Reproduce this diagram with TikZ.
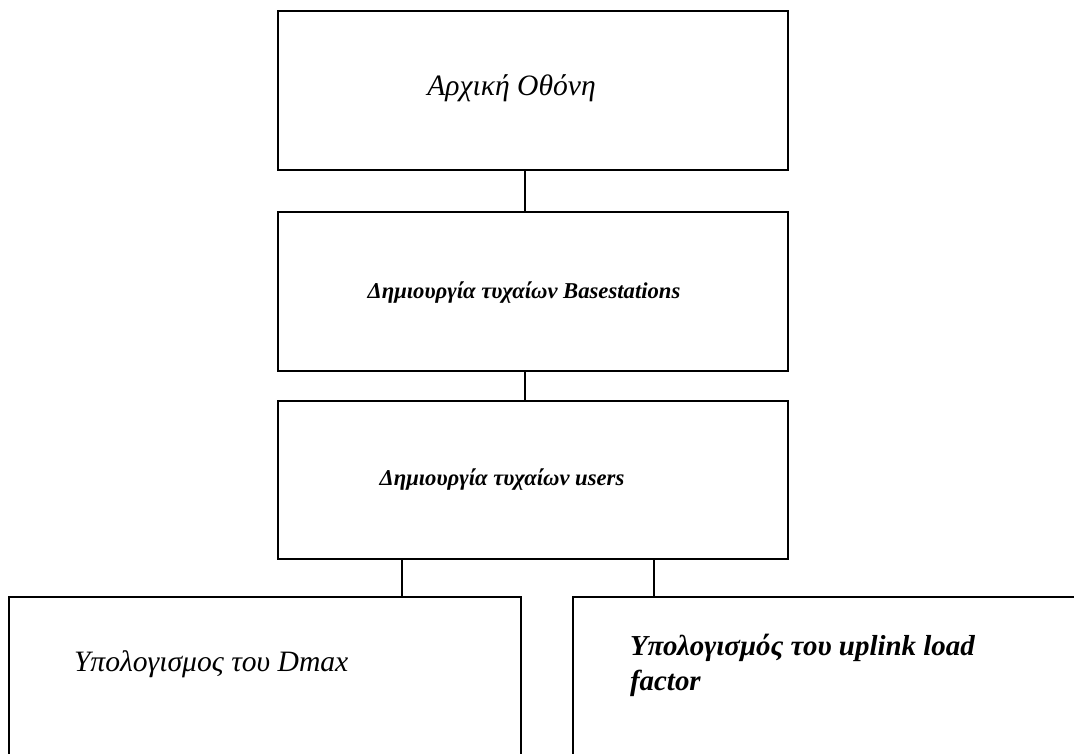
\documentclass[tikz,border=0pt]{standalone}
\usepackage{fontspec}
\setmainfont{Liberation Serif}
\begin{document}
\begin{tikzpicture}[x=0.75pt,y=-0.75pt,
  box/.style={draw=black,line width=1.2pt,rectangle,inner sep=0pt,outer sep=0pt,anchor=north west},
  wire/.style={draw=black,line width=1.2pt},
  lbl/.style={inner sep=0pt,outer sep=0pt,font=\itshape}]
\useasboundingbox (0,0) rectangle (1074,753);
\clip (0,0) rectangle (1074,753);
% process boxes
\node[box,minimum width=382.5pt,minimum height=119.25pt] (b1) at (278,11) {};
\node[box,minimum width=382.5pt,minimum height=119.25pt] (b2) at (278,212) {};
\node[box,minimum width=382.5pt,minimum height=118.5pt] (b3) at (278,401) {};
\node[box,minimum width=384pt,minimum height=180pt] (bl) at (9,597) {};
\node[box,minimum width=420pt,minimum height=180pt] (br) at (573,597) {};
% labels
\node[lbl,font=\fontsize{22.2}{26}\selectfont\itshape] (t1) at (511.5,88) {Αρχική Οθόνη};
\node[lbl,font=\fontsize{17}{20}\selectfont\bfseries\itshape] (t2) at (524,293) {Δημιουργία τυχαίων Basestations};
\node[lbl,font=\fontsize{17}{20}\selectfont\bfseries\itshape] (t3) at (502,480) {Δημιουργία τυχαίων users};
\node[lbl,anchor=west,font=\fontsize{22.2}{26}\selectfont\itshape] (tl) at (74,664) {Υπολογισμος του Dmax};
\node[lbl,anchor=west,align=left,font=\fontsize{21.7}{26.5}\selectfont\bfseries\itshape] (tr) at (630,665.5) {Υπολογισμός του uplink load\\factor};
% connectors
\coordinate (k0) at ([xshift=185.25pt]b1.south west);
\coordinate (k1) at ([xshift=185.25pt]b2.south west);
\coordinate (k2) at ([xshift=93pt]b3.south west);
\coordinate (k3) at ([xshift=282pt]b3.south west);
\draw[wire] (k0) -- (k0 |- b2.north);
\draw[wire] (k1) -- (k1 |- b3.north);
\draw[wire] (k2) -- (k2 |- bl.north);
\draw[wire] (k3) -- (k3 |- br.north);
\end{tikzpicture}
\end{document}
